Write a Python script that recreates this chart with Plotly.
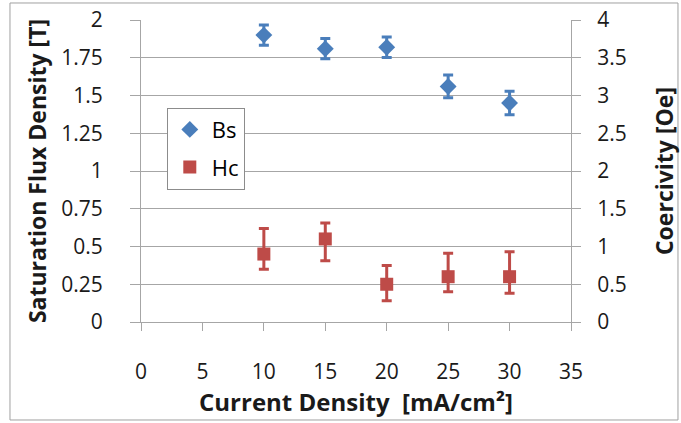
import plotly.graph_objects as go

current_density = [10, 15, 20, 25, 30]
bs_values = [1.90, 1.81, 1.82, 1.56, 1.45]
bs_err = [0.067, 0.067, 0.068, 0.075, 0.078]
hc_values = [0.9, 1.1, 0.5, 0.6, 0.6]
hc_err_plus = [0.34, 0.21, 0.25, 0.31, 0.33]
hc_err_minus = [0.20, 0.29, 0.22, 0.20, 0.22]

x_ticks = [0, 5, 10, 15, 20, 25, 30, 35]
left_ticks = [0, 0.25, 0.5, 0.75, 1, 1.25, 1.5, 1.75, 2]
left_tick_text = ["0", "0.25", "0.5", "0.75", "1", "1.25", "1.5", "1.75", "2"]
right_ticks = [0, 0.5, 1, 1.5, 2, 2.5, 3, 3.5, 4]
right_tick_text = ["0", "0.5", "1", "1.5", "2", "2.5", "3", "3.5", "4"]

BLUE = "#4a7ebb"
RED = "#be4b48"
GRID = "#a6a6a6"
FONT = "'Open Sans', sans-serif"

fig = go.Figure()
fig.add_trace(go.Scatter(
    x=current_density, y=bs_values, mode="markers", name="Bs",
    legendgroup="bs",
    marker=dict(symbol="diamond", size=13, color=BLUE),
    error_y=dict(type="data", array=bs_err, color=BLUE, thickness=3, width=5),
    yaxis="y",
))
fig.add_trace(go.Scatter(
    x=current_density, y=hc_values, mode="markers", name="Hc",
    legendgroup="hc",
    marker=dict(symbol="square", size=13, color=RED),
    error_y=dict(type="data", symmetric=False, array=hc_err_plus,
                 arrayminus=hc_err_minus, color=RED, thickness=3, width=5),
    yaxis="y2",
))

fig.update_layout(
    width=681, height=423,
    margin=dict(l=141, r=110, t=20, b=101, autoexpand=False),
    paper_bgcolor="white", plot_bgcolor="white",
    font=dict(family=FONT, size=21, color="#1a1a1a"),
    showlegend=True,
    legend=dict(
        x=0.06, y=0.71, xanchor="left", yanchor="top",
        bgcolor="white", bordercolor="#8c8c8c", borderwidth=1,
        font=dict(size=22, color="#000000"),
        tracegroupgap=6, itemwidth=34,
    ),
    xaxis=dict(
        range=[0, 35], tickvals=x_ticks, ticktext=[str(v) for v in x_ticks],
        showgrid=False, zeroline=False, automargin=False,
        showline=True, linecolor=GRID, linewidth=1,
        ticks="outside", ticklen=8, tickcolor=GRID,
        ticklabelstandoff=23,
        title=dict(text="<b>Current Density  [mA/cm²]</b>", font=dict(size=24), standoff=2),
    ),
    yaxis=dict(
        range=[0, 2], tickvals=left_ticks, ticktext=left_tick_text,
        showgrid=True, gridcolor=GRID, gridwidth=1, zeroline=False, automargin=False,
        showline=True, linecolor=GRID, linewidth=1,
        ticks="outside", ticklen=10, tickcolor=GRID,
        ticklabelstandoff=23,
        title=dict(text="<b>Saturation Flux Density [T]</b>", font=dict(size=23), standoff=8),
    ),
    yaxis2=dict(
        range=[0, 4], tickvals=right_ticks, ticktext=right_tick_text,
        overlaying="y", side="right", automargin=False,
        showgrid=False, zeroline=False,
        showline=True, linecolor=GRID, linewidth=1,
        ticks="outside", ticklen=9, tickcolor=GRID,
        ticklabelstandoff=12,
        title=dict(text="<b>Coercivity [Oe]</b>", font=dict(size=23), standoff=31),
    ),
)

# outer chart border
fig.add_shape(type="rect", xref="paper", yref="paper",
              x0=-0.3047, x1=1.2488, y0=-0.3245, y1=1.0563,
              line=dict(color="#a0a0a0", width=1), fillcolor="rgba(0,0,0,0)",
              layer="below")

fig.write_html("out.html")
